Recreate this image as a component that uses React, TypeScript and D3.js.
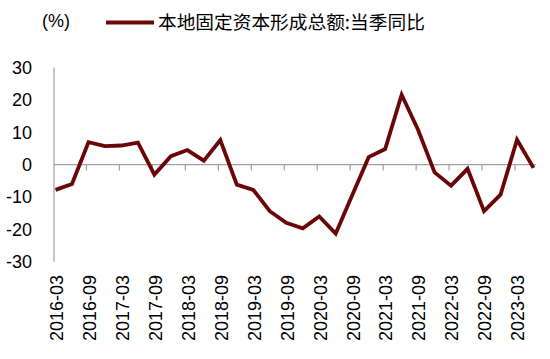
import React from "react";
import * as d3 from "d3";

const categories: string[] = [
  "2016-03","2016-06","2016-09","2016-12",
  "2017-03","2017-06","2017-09","2017-12",
  "2018-03","2018-06","2018-09","2018-12",
  "2019-03","2019-06","2019-09","2019-12",
  "2020-03","2020-06","2020-09","2020-12",
  "2021-03","2021-06","2021-09","2021-12",
  "2022-03","2022-06","2022-09","2022-12",
  "2023-03","2023-06",
];

const values: number[] = [
  -7.8, -6.0, 6.9, 5.7,
  5.9, 6.8, -3.1, 2.6,
  4.5, 1.2, 7.6, -6.2,
  -7.8, -14.4, -18.0, -19.7,
  -16.0, -21.3, -9.5, 2.3,
  4.8, 21.6, 10.7, -2.4,
  -6.5, -1.3, -14.4, -9.3,
  7.7, -1.0,
];

const yTicks: number[] = [-30, -20, -10, 0, 10, 20, 30];
const seriesName = "本地固定资本形成总额:当季同比";
const unitLabel = "(%)";

const W = 550;
const H = 359;
const FONT = "'Liberation Sans', Arial, sans-serif";
const LINE_COLOR = "#6b0606";
const AXIS_COLOR = "#a0a0a0";

export default function App() {
  const x = d3.scalePoint<string>().domain(categories).range([55.5, 533.5]);
  const y = d3.scaleLinear().domain([-30, 30]).range([261.7, 67.5]);
  const line = d3
    .line<number>()
    .x((_, i) => x(categories[i]) as number)
    .y((d) => y(d));

  const labelCats = categories.filter((_, i) => i % 2 === 0);
  const tickCats = labelCats.slice(1);

  return (
    <svg
      width={W}
      height={H}
      style={{ position: "absolute", left: 0, top: 0, background: "#fff" }}
      fontFamily={FONT}
    >
      {/* unit label */}
      <text x={42} y={27} fontSize={18} fill="#000">{unitLabel}</text>
      {/* legend */}
      <line x1={106} x2={154} y1={22.5} y2={22.5} stroke={LINE_COLOR} strokeWidth={4} />
      <text x={158} y={29} fontSize={18.7} fill="#000" fontFamily="'Noto Sans CJK SC', sans-serif">
        {seriesName}
      </text>

      {/* y axis */}
      <line x1={54} x2={54} y1={y(30)} y2={y(-30)} stroke={AXIS_COLOR} strokeWidth={1.2} />
      {yTicks.map((t) => (
        <text key={t} x={32} y={y(t)} dy="0.35em" textAnchor="end" fontSize={18} fill="#000">
          {t}
        </text>
      ))}

      {/* x axis at zero */}
      <line x1={54} x2={536} y1={y(0)} y2={y(0)} stroke={AXIS_COLOR} strokeWidth={1.2} />
      {tickCats.map((c) => (
        <line
          key={c}
          x1={(x(c) as number) - 2}
          x2={(x(c) as number) - 2}
          y1={y(0)}
          y2={y(0) + 6}
          stroke={AXIS_COLOR}
          strokeWidth={1.2}
        />
      ))}
      {labelCats.map((c) => (
        <text
          key={c}
          transform={`translate(${(x(c) as number) + 1},275) rotate(-90)`}
          textAnchor="end"
          dy="0.35em"
          fontSize={18}
          fill="#000"
        >
          {c}
        </text>
      ))}

      {/* series */}
      <path
        d={line(values) || ""}
        fill="none"
        stroke={LINE_COLOR}
        strokeWidth={3.8}
        strokeLinejoin="miter"
      />
    </svg>
  );
}
